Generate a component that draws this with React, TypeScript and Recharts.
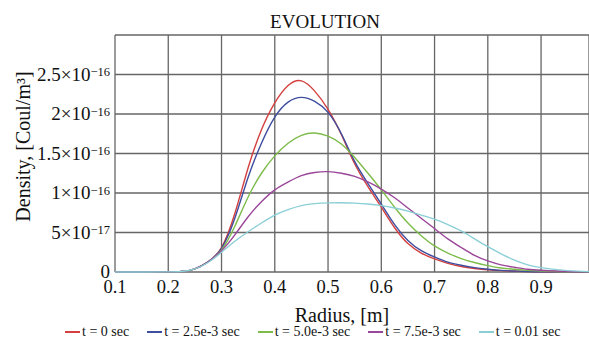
import { LineChart, Line, XAxis, YAxis, CartesianGrid, Legend } from 'recharts';

const FONT = '"Liberation Serif", "Times New Roman", serif';

// radius [m]
const radius = [
  0.1, 0.15, 0.2, 0.225, 0.25, 0.275, 0.3, 0.325, 0.35, 0.375, 0.4, 0.425, 0.45, 0.475, 0.5, 0.525,
  0.55, 0.575, 0.6, 0.625, 0.65, 0.675, 0.7, 0.725, 0.75, 0.775, 0.8, 0.825, 0.85, 0.875, 0.9, 0.95, 0.99,
];

// density in units of 1e-16 Coul/m^3
const t0 = [
  0, 0, 0.001, 0.006, 0.04, 0.13, 0.31, 0.74, 1.32, 1.8, 2.14, 2.36, 2.42, 2.29, 2.06, 1.74,
  1.37, 1.08, 0.82, 0.56, 0.36, 0.24, 0.165, 0.11, 0.07, 0.045, 0.028, 0.017, 0.01, 0.006, 0.004, 0.001, 0,
];
const t25 = [
  0, 0, 0.001, 0.006, 0.04, 0.13, 0.3, 0.68, 1.2, 1.63, 1.96, 2.15, 2.21, 2.16, 2.02, 1.75,
  1.4, 1.12, 0.86, 0.6, 0.4, 0.27, 0.19, 0.125, 0.085, 0.055, 0.035, 0.02, 0.012, 0.007, 0.004, 0.001, 0,
];
const t50 = [
  0, 0, 0.001, 0.006, 0.04, 0.13, 0.28, 0.58, 0.95, 1.25, 1.47, 1.63, 1.73, 1.76, 1.72, 1.62,
  1.45, 1.25, 1.04, 0.82, 0.62, 0.46, 0.33, 0.24, 0.17, 0.12, 0.08, 0.05, 0.035, 0.02, 0.012, 0.004, 0.001,
];
const t75 = [
  0, 0, 0.001, 0.006, 0.04, 0.13, 0.27, 0.47, 0.7, 0.89, 1.04, 1.14, 1.22, 1.26, 1.27, 1.25,
  1.21, 1.14, 1.05, 0.94, 0.81, 0.68, 0.55, 0.42, 0.31, 0.21, 0.14, 0.09, 0.06, 0.035, 0.022, 0.007, 0.002,
];
const t100 = [
  0, 0, 0.001, 0.006, 0.04, 0.12, 0.25, 0.39, 0.51, 0.62, 0.72, 0.79, 0.84, 0.865, 0.875, 0.877,
  0.872, 0.86, 0.84, 0.81, 0.77, 0.72, 0.67, 0.6, 0.52, 0.42, 0.32, 0.23, 0.15, 0.09, 0.055, 0.018, 0.005,
];

const xTicks = [0.1, 0.2, 0.3, 0.4, 0.5, 0.6, 0.7, 0.8, 0.9];
const yTicks = [0, 0.5, 1, 1.5, 2, 2.5, 3];
const yTickMain = ['0', '5×10', '1×10', '1.5×10', '2×10', '2.5×10', ''];
const yTickExp = ['', '−17', '−16', '−16', '−16', '−16', ''];

const series = [
  { key: 't0', name: 't = 0 sec', color: '#d3403f', values: t0 },
  { key: 't25', name: 't = 2.5e-3 sec', color: '#3e4d9e', values: t25 },
  { key: 't50', name: 't = 5.0e-3 sec', color: '#7dbb4a', values: t50 },
  { key: 't75', name: 't = 7.5e-3 sec', color: '#9a4699', values: t75 },
  { key: 't100', name: 't = 0.01 sec', color: '#8bcfd6', values: t100 },
];
const seriesOrder = series.map((s) => s.name);

const data = radius.map((r, i) => {
  const row: Record<string, number> = { r };
  series.forEach((s) => {
    row[s.key] = s.values[i];
  });
  return row;
});

function YTick({ x, y, payload }: any) {
  const i = yTicks.indexOf(payload.value);
  if (i < 0 || !yTickMain[i]) return null;
  return (
    <text x={x} y={y + 6} textAnchor="end" fontFamily={FONT} fontSize={19} fill="#111">
      <tspan>{yTickMain[i]}</tspan>
      {yTickExp[i] && (
        <tspan dy={-4.5} fontSize={12.5}>
          {yTickExp[i]}
        </tspan>
      )}
    </text>
  );
}

function renderLegend({ payload }: any) {
  const items = [...payload].sort(
    (a: any, b: any) => seriesOrder.indexOf(a.value) - seriesOrder.indexOf(b.value)
  );
  return (
    <div
      style={{
        display: 'flex',
        gap: 18,
        paddingLeft: 65,
        height: 12,
        alignItems: 'center',
        fontFamily: FONT,
        fontSize: 14,
        color: '#111',
        whiteSpace: 'nowrap',
      }}
    >
      {items.map((p: any) => (
        <span key={p.value} style={{ display: 'flex', alignItems: 'center', lineHeight: '12px' }}>
          <span style={{ width: 15, height: 1.5, background: p.color, marginRight: 2 }} />
          {p.value}
        </span>
      ))}
    </div>
  );
}

export default function App() {
  return (
    <div style={{ position: 'absolute', left: 0, top: 0, width: 589, height: 338, background: '#fff' }}>
      <div
        style={{
          position: 'absolute',
          left: 0,
          top: 12,
          width: 650,
          textAlign: 'center',
          fontFamily: FONT,
          fontSize: 19,
          lineHeight: '19px',
          color: '#111',
        }}
      >
        EVOLUTION
      </div>
      <LineChart width={589} height={338} data={data} margin={{ top: 35, right: 0, left: 0, bottom: 0 }}>
        <CartesianGrid stroke="#666" strokeWidth={1.3} />
        <XAxis
          dataKey="r"
          type="number"
          domain={[0.1, 0.99]}
          allowDataOverflow
          ticks={xTicks}
          interval={0}
          axisLine={false}
          tickLine={false}
          height={54}
          tick={{ fontFamily: FONT, fontSize: 18.5, fill: '#111' }}
          label={{
            content: ({ viewBox }: any) => (
              <text
                x={viewBox.x + viewBox.width / 2 - 10}
                y={viewBox.y + 50}
                textAnchor="middle"
                fontFamily={FONT}
                fontSize={20}
                fill="#111"
              >
                Radius, [m]
              </text>
            ),
          }}
        />
        <YAxis
          type="number"
          domain={[0, 3]}
          ticks={yTicks}
          interval={0}
          axisLine={false}
          tickLine={false}
          tickSize={0}
          tickMargin={5}
          width={115}
          tick={<YTick />}
          label={{
            content: () => {
              const cx = 30;
              const cy = 146.5;
              return (
                <text
                  x={cx}
                  y={cy}
                  textAnchor="middle"
                  transform={`rotate(-90, ${cx}, ${cy})`}
                  fontFamily={FONT}
                  fontSize={20}
                  fill="#111"
                >
                  Density, [Coul/m³]
                </text>
              );
            },
          }}
        />
        <Legend verticalAlign="bottom" content={renderLegend} />
        {series.map((s) => (
          <Line
            key={s.key}
            dataKey={s.key}
            name={s.name}
            stroke={s.color}
            strokeWidth={1.4}
            dot={false}
            type="natural"
            isAnimationActive={false}
          />
        ))}
      </LineChart>
    </div>
  );
}
